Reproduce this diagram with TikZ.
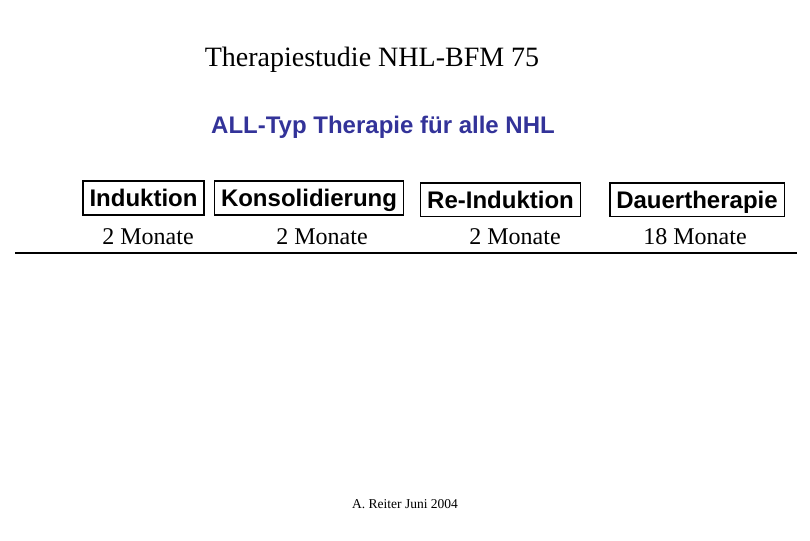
\documentclass[tikz,border=0pt]{standalone}
\usepackage{fontspec}
\setmainfont{Liberation Serif}
\setsansfont{Liberation Sans}
\definecolor{subblue}{HTML}{333399}
\begin{document}
\begin{tikzpicture}[x=1pt,y=-1pt,
  phase/.style={draw=black,line width=1.6pt,font=\sffamily\bfseries\fontsize{24}{28}\selectfont,
    text height=17.2pt,text depth=0pt,inner ysep=8.2pt,inner xsep=6.6pt},
  dur/.style={anchor=base,font=\fontsize{24}{28}\selectfont,inner sep=0pt}]
\useasboundingbox (0,0) rectangle (810,540);
\node[anchor=base,inner sep=0pt,font=\fontsize{28}{32}\selectfont] (title) at (372,67) {Therapiestudie NHL-BFM 75};
\node[anchor=base,inner sep=0pt,text=subblue,font=\sffamily\bfseries\fontsize{24}{28}\selectfont] (sub) at (383,134) {ALL-Typ Therapie für alle NHL};
\node[phase] (ind) at (143.5,198) {Induktion};
\node[phase] (kons) at (309,198) {Konsolidierung};
\node[phase] (reind) at (500.5,199.5) {Re-Induktion};
\node[phase] (dauer) at (697,199.5) {Dauertherapie};
\node[dur] (m1) at (148,244) {2 Monate};
\node[dur] (m2) at (322,244) {2 Monate};
\node[dur] (m3) at (515,244) {2 Monate};
\node[dur] (m4) at (695,244) {18 Monate};
\coordinate (lineL) at (15,253);
\coordinate (lineR) at (797,253);
\draw[line width=2pt] (lineL) -- (lineR);
\node[anchor=base,inner sep=0pt,font=\fontsize{13.5}{16}\selectfont] (foot) at (405,508) {A. Reiter Juni 2004};
\end{tikzpicture}
\end{document}
